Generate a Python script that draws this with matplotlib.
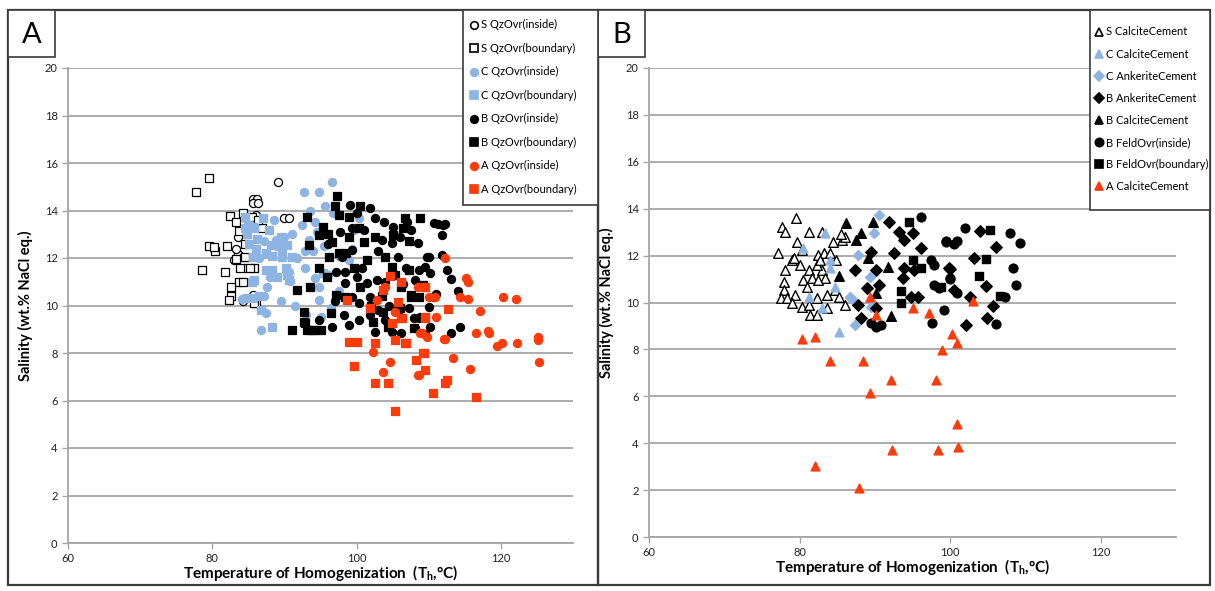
import numpy as np
import matplotlib.pyplot as plt
from matplotlib.patches import Rectangle
from matplotlib.lines import Line2D

plt.rcParams['font.family'] = ['Lato', 'DejaVu Sans']

BLUE = '#8DB4E2'
RED = '#FF3B0A'
GRID = '#A6A6A6'

# ---- panel A: quartz overgrowth inclusions ----
s_in = [(89.1, 15.2), (85.6, 14.5), (86.2, 14.5), (85.6, 14.3), (86.3, 14.3), (89.9, 13.7),
        (90.6, 13.7), (83.6, 12.9), (83.5, 12.15), (84.3, 12.05), (84.6, 11.6), (85.7, 10.45),
        (85.0, 13.6), (84.0, 13.2), (83.0, 11.9), (84.2, 10.2), (86.0, 13.8), (83.3, 12.4)]
s_bd = [(77.7, 14.8), (79.5, 15.35), (82.5, 13.75), (83.3, 13.5), (83.7, 13.15), (84.6, 12.6),
        (79.6, 12.5), (80.4, 12.3), (82.0, 12.5), (83.3, 11.95), (78.6, 11.5), (81.7, 11.4),
        (83.7, 11.0), (82.6, 10.8), (82.6, 10.4), (82.3, 10.25), (86.0, 10.1), (84.6, 13.74),
        (85.5, 13.74), (86.9, 13.25), (84.6, 12.06), (85.8, 11.6), (84.2, 11.0), (85.8, 10.1),
        (80.2, 12.45), (85.2, 11.6), (83.9, 11.6), (84.3, 13.9), (86.3, 13.6)]
c_in = [(96.6, 15.2), (92.7, 14.8), (94.8, 14.8), (95.6, 14.2), (92.5, 13.4), (94.3, 13.5),
        (94.5, 13.1), (93.4, 12.76), (92.9, 12.3), (94.0, 12.3), (91.8, 12.0), (88.8, 12.76),
        (89.7, 12.3), (87.2, 12.7), (87.6, 10.8), (87.2, 10.4), (87.4, 9.67), (86.8, 8.97),
        (90.6, 11.42), (90.8, 11.05), (92.9, 11.6), (94.3, 11.15), (94.8, 10.8), (94.8, 10.23),
        (96.4, 9.88), (97.5, 12.1), (98.9, 11.9), (99.6, 13.2), (100.3, 13.67), (99.4, 12.4),
        (84.1, 10.26), (93.5, 14.0), (91.0, 13.0), (88.0, 11.2), (95.5, 12.5), (96.0, 11.3),
        (89.5, 10.2), (97.5, 10.6), (91.5, 10.0), (93.0, 9.6), (88.5, 13.6), (90.0, 12.9),
        (96.8, 13.9), (86.5, 12.0), (95.0, 9.5)]
c_bd = [(84.6, 13.74), (85.0, 13.4), (85.7, 13.3), (84.8, 13.0), (85.7, 12.05), (85.5, 11.0),
        (84.8, 10.3), (84.6, 13.25), (85.8, 13.25), (87.9, 13.2), (85.1, 12.6), (86.2, 12.8),
        (88.1, 12.55), (89.2, 12.5), (90.4, 12.55), (87.4, 12.2), (88.3, 12.1), (89.7, 12.05),
        (91.1, 12.06), (87.4, 11.5), (88.3, 11.5), (90.2, 11.6), (90.4, 11.3), (90.6, 11.07),
        (85.8, 11.07), (85.6, 10.3), (86.5, 10.4), (88.3, 9.1), (95.4, 11.36), (89.0, 11.2),
        (86.8, 9.8), (87.0, 13.7), (86.0, 12.4), (89.5, 12.9)]
b_in = [(99.1, 14.23), (101.9, 14.09), (100.0, 13.88), (102.6, 13.67), (97.7, 13.11), (99.4, 13.25),
        (101.0, 13.18), (99.4, 12.34), (98.0, 12.06), (97.1, 11.43), (98.4, 11.43), (100.0, 11.22),
        (101.4, 10.93), (102.8, 11.07), (98.4, 10.93), (99.4, 10.37), (100.3, 10.1), (101.9, 10.37),
        (103.0, 9.8), (104.0, 9.39), (104.9, 8.9), (108.8, 9.53), (108.1, 9.04), (110.0, 9.95),
        (110.2, 11.36), (110.0, 12.06), (110.8, 13.46), (107.6, 13.18), (108.5, 12.62), (105.8, 12.06),
        (104.9, 12.62), (103.5, 12.76), (106.8, 11.6), (96.6, 9.11), (94.8, 9.39), (98.2, 9.6),
        (101.9, 9.6), (100.3, 9.4), (106.2, 8.83), (111.8, 12.97), (112.0, 13.39), (111.3, 13.45),
        (112.3, 13.45), (111.8, 12.13), (109.7, 12.06), (113.1, 11.1), (114.1, 10.61), (110.8, 10.37),
        (107.2, 9.88), (107.9, 9.46), (108.6, 9.46), (110.2, 9.11), (114.3, 9.11), (113.1, 8.83),
        (109.5, 11.64), (108.6, 11.5), (108.1, 11.07), (106.0, 12.9), (107.0, 13.5), (105.0, 13.3),
        (103.0, 12.3), (104.0, 11.0), (96.0, 12.6), (97.0, 10.2), (99.0, 9.2), (102.5, 8.9),
        (111.0, 10.5), (112.5, 11.5), (109.5, 8.8), (104.5, 10.0), (103.8, 13.5), (106.5, 10.9),
        (100.8, 11.6)]
b_bd = [(97.3, 14.6), (97.0, 14.2), (100.5, 14.2), (98.9, 13.74), (97.5, 13.8), (93.1, 13.74),
        (95.4, 13.3), (94.8, 12.97), (93.4, 12.55), (96.6, 12.69), (97.5, 12.2), (98.6, 12.2),
        (96.2, 12.05), (94.8, 11.57), (95.9, 11.2), (91.8, 10.65), (93.6, 10.8), (92.7, 9.74),
        (92.7, 9.32), (91.1, 8.97), (93.1, 8.97), (94.1, 8.97), (95.0, 8.97), (96.4, 9.67),
        (97.1, 10.44), (98.4, 10.37), (101.0, 12.69), (100.3, 13.25), (102.6, 12.9), (105.1, 12.97),
        (106.7, 13.67), (108.8, 13.67), (106.5, 13.25), (107.2, 12.7), (104.0, 12.06), (104.9, 11.64),
        (105.3, 11.3), (106.2, 10.79), (107.6, 10.44), (108.7, 10.37), (109.2, 10.86), (105.8, 9.8),
        (103.7, 9.74), (102.3, 9.32), (104.4, 9.11), (99.6, 11.57), (100.5, 10.79), (107.2, 11.5),
        (107.6, 10.37), (107.9, 9.04), (106.0, 9.9), (103.5, 10.4), (101.5, 11.9), (99.0, 12.9),
        (102.0, 10.0), (96.0, 13.0), (92.9, 9.25), (93.8, 8.97)]
a_in = [(108.5, 10.79), (109.5, 10.79), (110.0, 10.37), (110.9, 10.37), (102.8, 10.23), (105.3, 9.74),
        (108.8, 8.83), (102.3, 8.06), (112.2, 11.99), (115.2, 11.14), (115.4, 11.0), (114.3, 10.37),
        (115.5, 10.26), (120.3, 10.37), (122.1, 10.26), (117.1, 9.77), (116.6, 8.83), (118.2, 8.93),
        (118.3, 8.83), (119.4, 8.29), (120.1, 8.41), (122.3, 8.41), (125.1, 8.69), (125.1, 8.55),
        (125.3, 7.61), (113.4, 7.78), (115.7, 7.31), (112.2, 8.59), (108.5, 7.07), (109.0, 8.83),
        (109.7, 8.69), (104.6, 7.62), (103.7, 7.21), (108.6, 7.06), (112.1, 8.57), (104.0, 10.8),
        (111.0, 9.5)]
a_bd = [(104.6, 11.24), (106.2, 11.0), (103.7, 10.65), (98.7, 10.23), (101.9, 9.88), (105.8, 10.16),
        (106.2, 9.46), (104.9, 9.25), (109.5, 9.53), (98.9, 8.48), (100.0, 8.48), (105.3, 8.55),
        (106.7, 8.41), (109.2, 7.99), (112.7, 9.85), (109.5, 9.46), (109.5, 10.79), (106.3, 9.46),
        (106.9, 8.41), (109.4, 7.99), (108.3, 7.71), (109.5, 7.28), (112.5, 6.86), (112.2, 6.72),
        (110.6, 6.3), (116.5, 6.16), (99.6, 7.47), (102.6, 6.75), (104.4, 6.75), (105.3, 5.56),
        (102.6, 8.41)]

# ---- panel B: cements and feldspar overgrowths ----
s_cal = [(79.5, 13.59), (77.7, 13.24), (78.1, 13.02), (81.2, 13.02), (83.0, 13.02), (79.6, 12.6),
         (77.2, 12.1), (79.0, 11.81), (79.3, 11.9), (80.3, 12.24), (82.5, 12.03), (83.2, 12.1),
         (84.0, 12.1), (84.5, 12.6), (85.6, 12.67), (86.0, 12.8), (78.1, 11.39), (77.9, 10.89),
         (77.9, 10.54), (77.5, 10.18), (78.3, 10.18), (79.4, 10.32), (81.2, 11.39), (81.6, 11.03),
         (80.5, 10.96), (81.0, 10.68), (83.0, 11.39), (82.3, 11.6), (82.7, 11.8), (83.4, 11.03),
         (82.5, 10.96), (80.3, 9.82), (81.2, 9.9), (82.3, 10.18), (83.6, 10.32), (84.7, 10.54),
         (85.3, 10.25), (86.0, 9.9), (81.4, 9.47), (82.3, 9.47), (83.6, 9.75), (80.0, 11.6),
         (84.8, 11.8), (85.5, 12.9), (79.0, 10.0)]
c_cal = [(83.4, 12.98), (80.5, 12.34), (84.0, 11.81), (84.0, 11.46), (84.7, 10.68), (81.2, 10.22),
         (83.0, 9.75), (85.3, 8.76)]
c_ank = [(90.6, 13.73), (89.9, 12.95), (87.8, 12.03), (89.3, 11.1), (86.7, 10.25), (87.1, 10.1),
         (89.5, 9.82), (87.3, 9.04)]
b_ank = [(91.9, 13.45), (93.2, 13.02), (93.9, 12.67), (95.0, 12.95), (96.1, 12.31), (89.5, 12.17),
         (92.6, 12.1), (87.3, 11.39), (90.2, 11.39), (93.9, 11.46), (95.2, 11.39), (99.8, 11.46),
         (90.6, 10.75), (93.7, 11.03), (88.9, 10.61), (87.8, 9.9), (90.2, 9.75), (88.2, 9.33),
         (94.8, 10.25), (95.7, 10.25), (100.5, 10.54), (103.9, 13.05), (106.1, 12.38), (103.2, 11.89),
         (100.0, 11.43), (104.7, 10.71), (102.6, 10.25), (105.7, 9.85), (104.9, 9.33), (102.1, 9.04)]
b_cal = [(86.2, 13.38), (89.7, 13.45), (87.5, 12.67), (88.2, 12.95), (89.1, 11.89), (91.7, 11.53),
         (85.3, 11.13), (90.2, 10.39), (92.1, 9.43)]
b_fin = [(96.1, 13.66), (97.4, 11.81), (97.9, 11.6), (99.4, 12.6), (100.5, 12.5), (97.8, 10.75),
         (98.5, 10.61), (99.2, 9.68), (97.6, 9.11), (89.5, 9.11), (90.2, 8.97), (90.8, 9.04),
         (100.0, 11.03), (102.0, 13.19), (99.5, 12.64), (100.9, 12.64), (107.9, 12.98), (109.3, 12.53),
         (108.4, 11.46), (108.8, 10.75), (100.0, 10.99), (100.9, 10.39), (107.3, 10.25), (106.1, 9.07)]
b_fbd = [(94.6, 13.45), (95.0, 11.81), (96.1, 11.46), (93.5, 10.47), (93.5, 9.97), (105.3, 13.09),
         (104.8, 11.84), (103.8, 11.13), (98.8, 10.64), (106.6, 10.28)]
a_cal = [(80.3, 8.43), (82.1, 8.55), (84.0, 7.5), (88.4, 7.5), (89.3, 10.25), (90.2, 9.47),
         (95.0, 9.75), (97.2, 9.57), (98.9, 7.98), (100.3, 8.66), (100.9, 8.26), (103.0, 10.07),
         (92.1, 6.7), (98.1, 6.7), (89.3, 6.13), (100.9, 4.81), (92.3, 3.71), (98.4, 3.71),
         (101.0, 3.85), (82.1, 3.03), (87.9, 2.08)]

labels_a = ['S QzOvr(inside)', 'S QzOvr(boundary)', 'C QzOvr(inside)', 'C QzOvr(boundary)',
            'B QzOvr(inside)', 'B QzOvr(boundary)', 'A QzOvr(inside)', 'A QzOvr(boundary)']
labels_b = ['S CalciteCement', 'C CalciteCement', 'C AnkeriteCement', 'B AnkeriteCement',
            'B CalciteCement', 'B FeldOvr(inside)', 'B FeldOvr(boundary)', 'A CalciteCement']
y_ticks = [0, 2, 4, 6, 8, 10, 12, 14, 16, 18, 20]
x_ticks = [60, 80, 100, 120]

fig = plt.figure(figsize=(12.15, 5.91), dpi=100)
W, H = 1215, 591


def px(x0, y0, x1, y1):
    return [x0 / W, 1 - y1 / H, (x1 - x0) / W, (y1 - y0) / H]


def style(ax):
    ax.set_xlim(60, 130)
    ax.set_ylim(0, 20)
    ax.set_xticks(x_ticks)
    ax.set_yticks(y_ticks)
    ax.yaxis.grid(True, color=GRID, lw=1.3)
    ax.set_axisbelow(True)
    for s in ['top', 'right']:
        ax.spines[s].set_visible(False)
    for s in ['left', 'bottom']:
        ax.spines[s].set_color(GRID)
        ax.spines[s].set_linewidth(1.3)
    ax.tick_params(axis='both', colors=GRID, labelcolor='#222222', labelsize=8, length=4, width=1)
    ax.set_xlabel('Temperature of Homogenization  (T$_\\mathregular{h}$,°C)',
                  fontsize=11, fontweight='bold', labelpad=-1)
    ax.set_ylabel('Salinity (wt.% NaCl eq.)', fontsize=10.5, fontweight='bold', labelpad=8)


def pts(p):
    a = np.array(p)
    return a[:, 0], a[:, 1]


ms = 34
axA = fig.add_axes(px(68, 68, 573, 543))
style(axA)
ha = []
for data, m, fc, ec in [(s_in, 'o', 'white', 'black'), (s_bd, 's', 'white', 'black'),
                        (c_in, 'o', BLUE, BLUE), (c_bd, 's', BLUE, BLUE),
                        (b_in, 'o', 'black', 'black'), (b_bd, 's', 'black', 'black'),
                        (a_in, 'o', RED, RED), (a_bd, 's', RED, RED)]:
    x, y = pts(data)
    axA.scatter(x, y, s=ms, marker=m, facecolor=fc, edgecolor=ec, linewidth=0.9, zorder=3)
    ha.append(Line2D([], [], ls='', marker=m, markersize=5.5, markerfacecolor=fc,
                     markeredgecolor=ec, markeredgewidth=1.2))

axB = fig.add_axes(px(649, 68, 1176, 537))
style(axB)
hb = []
for data, m, fc, ec, sz in [(s_cal, '^', 'white', 'black', 48), (c_cal, '^', BLUE, BLUE, 40),
                            (c_ank, 'D', BLUE, BLUE, 26), (b_ank, 'D', 'black', 'black', 34),
                            (b_cal, '^', 'black', 'black', 48), (b_fin, 'o', 'black', 'black', 40),
                            (b_fbd, 's', 'black', 'black', 36), (a_cal, '^', RED, RED, 40)]:
    x, y = pts(data)
    axB.scatter(x, y, s=sz, marker=m, facecolor=fc, edgecolor=ec, linewidth=1.0, zorder=3)
    hb.append(Line2D([], [], ls='', marker=m, markersize=6 if m != 'D' else 5, markerfacecolor=fc,
                     markeredgecolor=ec, markeredgewidth=1.2))

# frames, panel letters and legend boxes
FRAME = '#3A3A3A'
for r in [px(8, 10, 598, 585), px(598, 10, 1210, 585)]:
    fig.add_artist(Rectangle((r[0], r[1]), r[2], r[3], transform=fig.transFigure,
                             fill=False, edgecolor=FRAME, lw=1.6, zorder=10))
for r, t in [(px(8, 10, 55, 57), 'A'), (px(598, 10, 645, 57), 'B')]:
    fig.add_artist(Rectangle((r[0], r[1]), r[2], r[3], transform=fig.transFigure,
                             facecolor='white', edgecolor=FRAME, lw=1.2, zorder=10))
    fig.text(r[0] + r[2] / 2, r[1] + r[3] / 2 - 0.003, t, fontsize=21, ha='center', va='center',
             zorder=11)

# legend boxes: (box, handles, labels, row spacing, anchor x px, anchor y px)
for r, h, lab, sp, ax_px, ay_px in [(px(463, 10, 598, 205), ha, labels_a, 1.12, 464, 15),
                                    (px(1090, 10, 1210, 210), hb, labels_b, 1.0, 1089, 22)]:
    fig.add_artist(Rectangle((r[0], r[1]), r[2], r[3], transform=fig.transFigure,
                             facecolor='white', edgecolor=FRAME, lw=1.2, zorder=10))
    leg = fig.legend(h, lab, loc='upper left', bbox_to_anchor=(ax_px / W, 1 - ay_px / H),
                     frameon=False, fontsize=8, handletextpad=0.1, handlelength=1.0,
                     labelspacing=sp, borderaxespad=0.0, borderpad=0.4)
    leg.set_zorder(12)

fig.savefig('out.png', dpi=100)
